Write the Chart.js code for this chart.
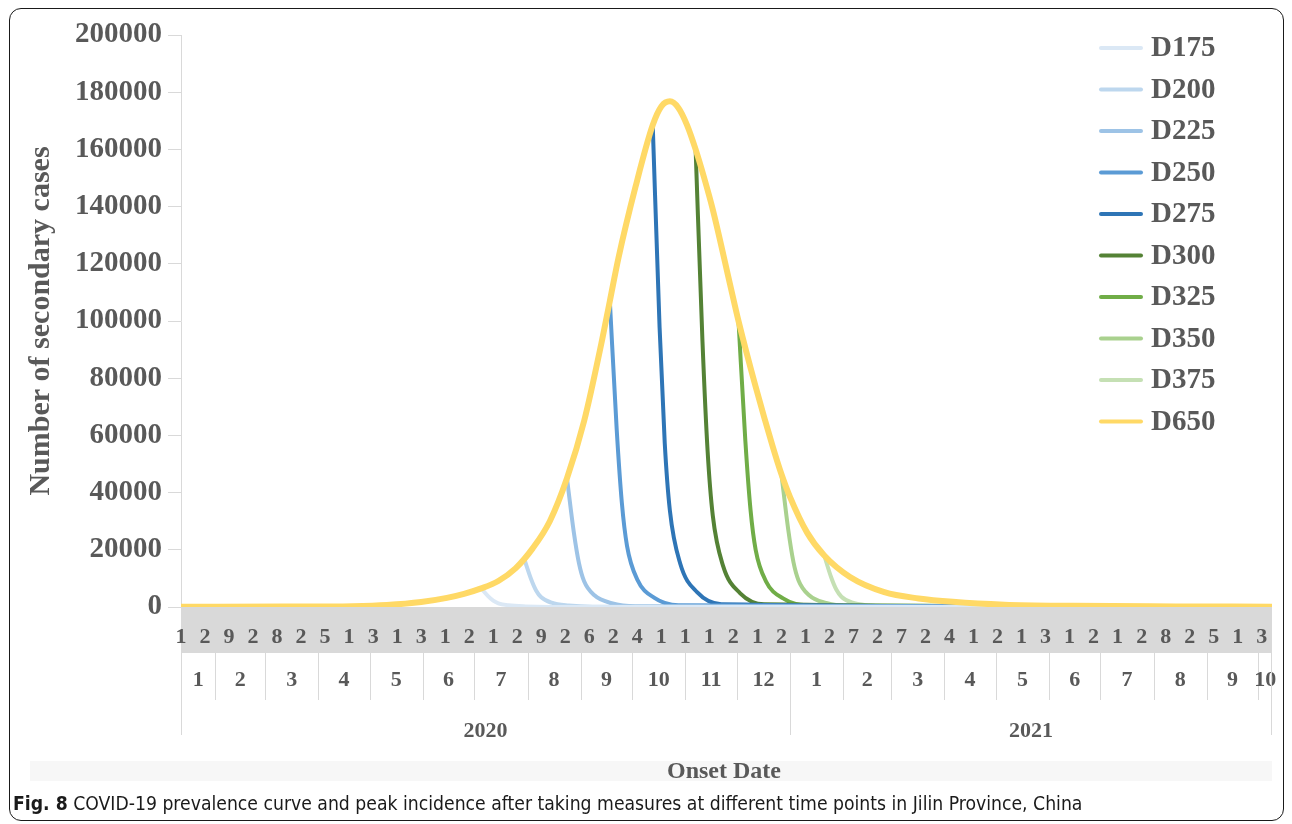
<!DOCTYPE html>
<html>
<head>
<meta charset="utf-8">
<script src="https://cdn.jsdelivr.net/npm/chart.js@4.4.1/dist/chart.umd.min.js"></script>
<style>
    html, body { margin: 0; padding: 0; background: #fff; }
    #wrap { position: relative; width: 1292px; height: 824px; overflow: hidden; }
    #frame {
        position: absolute; left: 9px; top: 8px; width: 1275px; height: 813px;
        border: 1.5px solid #1a1a1a; border-radius: 12px; box-sizing: border-box;
    }
    #chart { position: absolute; left: 0; top: 0; }
    #caption {
        position: absolute; left: 13px; top: 791px; white-space: nowrap;
        font-family: 'Liberation Sans Narrow', 'DejaVu Sans Condensed', 'Noto Sans', sans-serif;
        font-size: 20px; color: #1a1a1a;
        transform: scaleX(0.96); transform-origin: left top;
    }
    #caption b { font-weight: bold; }
</style>
</head>
<body>
<div id="wrap">
    <div id="frame"></div>
    <canvas id="chart" width="1292" height="824"></canvas>
    <div id="caption"><b>Fig. 8</b> COVID-19 prevalence curve and peak incidence after taking measures at different time points in Jilin Province, China</div>
</div>
<script>
// Axe des x : jours depuis le 12/01/2020
const lastDay = 636;
const dayTickEvery = 14;
const dayTicks = ['1','2','9','2','8','2','5','1','3','1','3','1','2','1','2','9','2','6','2','4','1','1','1',
                  '2','1','2','1','2','7','2','7','2','4','1','2','1','3','1','2','1','2','8','2','5','1','3'];
const monthLabels = ['1','2','3','4','5','6','7','8','9','10','11','12','1','2','3','4','5','6','7','8','9','10'];
const monthStarts = [0, 20, 49, 80, 110, 141, 171, 202, 233, 263, 294, 324, 355, 386, 414, 445, 475, 506, 536, 567, 598, 628];
const yearLabels = ['2020', '2021'];
const yearStarts = [0, 355];

// Courbe sans intervention
const d650Days  = [0, 60, 100, 120, 140, 155, 165, 175, 185, 195, 205, 215, 225, 235, 245, 250, 255, 265, 275, 280, 285,
                   290, 295, 300, 305, 310, 320, 325, 335, 345, 350, 355, 365, 375, 390, 410, 430, 450, 480, 520, 580, 636];
const d650Cases = [100, 150, 300, 700, 1750, 3200, 4600, 6500, 9100, 13500, 20500, 30000, 45000, 65000, 92000, 107000, 122000, 147000, 168500, 175000, 176800,
                   174500, 168500, 160000, 150000, 139000, 113000, 100000, 77000, 56000, 46500, 38500, 26000, 18000, 10500, 5200, 3000, 1800, 800, 400, 200, 120];

// Courbes avec mesures prises au jour N
const d175Days = [175, 179, 182, 185, 191, 201, 215, 636];
const d175Cases = [6500, 3800, 2200, 1300, 600, 200, 40, 0];
const d200Days = [200, 204, 207, 210, 216, 226, 240, 636];
const d200Cases = [17000, 9900, 5800, 3400, 1500, 500, 100, 0];
const d225Days = [225, 229, 232, 235, 241, 251, 265, 636];
const d225Cases = [45000, 26100, 15300, 9000, 4100, 1350, 270, 0];
const d250Days = [250, 254, 257, 260, 266, 276, 290, 636];
const d250Cases = [107000, 62000, 36400, 21400, 9600, 3200, 640, 0];
const d275Days = [275, 279, 282, 285, 291, 301, 315, 636];
const d275Cases = [168500, 97700, 57300, 33700, 15200, 5100, 1000, 0];
const d300Days = [300, 304, 307, 310, 316, 326, 340, 636];
const d300Cases = [160000, 92800, 54400, 32000, 14400, 4800, 960, 0];
const d325Days = [325, 329, 332, 335, 341, 351, 365, 636];
const d325Cases = [100000, 58000, 34000, 20000, 9000, 3000, 600, 0];
const d350Days = [350, 354, 357, 360, 366, 376, 390, 636];
const d350Cases = [46500, 27000, 15800, 9300, 4200, 1400, 280, 0];
const d375Days = [375, 379, 382, 385, 391, 401, 415, 636];
const d375Cases = [18000, 10400, 6100, 3600, 1600, 540, 110, 0];

const seriesNames = ['D175', 'D200', 'D225', 'D250', 'D275', 'D300', 'D325', 'D350', 'D375', 'D650'];
const seriesColors = ['#dbe8f5', '#bdd7ee', '#9dc3e6', '#5b9bd5', '#2e75b6', '#548235', '#70ad47', '#a9d18e', '#c5e0b4', '#ffd966'];

const serif = "'Liberation Serif', 'Times New Roman', serif";
const grey = '#595959';

function toPoints(days, cases) {
    return days.map((d, i) => ({ x: d, y: cases[i] }));
}

const seriesData = [
    toPoints(d175Days, d175Cases),
    toPoints(d200Days, d200Cases),
    toPoints(d225Days, d225Cases),
    toPoints(d250Days, d250Cases),
    toPoints(d275Days, d275Cases),
    toPoints(d300Days, d300Cases),
    toPoints(d325Days, d325Cases),
    toPoints(d350Days, d350Cases),
    toPoints(d375Days, d375Cases),
    toPoints(d650Days, d650Cases)
];

// Axe des dates a plusieurs niveaux + legende
const axisDecor = {
    id: 'axisDecor',
    afterDatasetsDraw(chart) {
        const { ctx, chartArea: a, scales: { x } } = chart;
        const bandBottom = a.bottom + 46;
        ctx.save();

        ctx.fillStyle = '#d9d9d9';
        ctx.fillRect(a.left, a.bottom, a.right - a.left, 46);

        ctx.fillStyle = grey;
        ctx.textAlign = 'center';
        ctx.textBaseline = 'middle';
        ctx.font = 'bold 22px ' + serif;
        dayTicks.forEach((t, i) => {
            ctx.fillText(t, x.getPixelForValue(i * dayTickEvery), a.bottom + 30);
        });

        ctx.strokeStyle = '#d9d9d9';
        ctx.lineWidth = 1;
        monthStarts.forEach((d, i) => {
            const x0 = x.getPixelForValue(d);
            const x1 = x.getPixelForValue(i + 1 < monthStarts.length ? monthStarts[i + 1] : lastDay);
            const isYear = yearStarts.includes(d);
            ctx.beginPath();
            ctx.moveTo(Math.round(x0) + 0.5, bandBottom);
            ctx.lineTo(Math.round(x0) + 0.5, isYear ? bandBottom + 82 : bandBottom + 47);
            ctx.stroke();
            ctx.fillText(monthLabels[i], (x0 + x1) / 2, bandBottom + 27);
        });
        ctx.beginPath();
        ctx.moveTo(Math.round(a.right) - 0.5, bandBottom);
        ctx.lineTo(Math.round(a.right) - 0.5, bandBottom + 82);
        ctx.stroke();

        yearLabels.forEach((y, i) => {
            const x0 = x.getPixelForValue(yearStarts[i]);
            const x1 = x.getPixelForValue(i + 1 < yearStarts.length ? yearStarts[i + 1] : lastDay);
            ctx.fillText(y, (x0 + x1) / 2, bandBottom + 78);
        });

        ctx.fillStyle = '#f7f7f7';
        ctx.fillRect(30, 761, a.right - 30, 20);
        ctx.fillStyle = grey;
        ctx.font = 'bold 24px ' + serif;
        ctx.fillText('Onset Date', 724, 772);

        // legende
        ctx.textAlign = 'left';
        ctx.font = 'bold 29px ' + serif;
        chart.data.datasets.forEach((ds, i) => {
            const y = 48 + i * 41.5;
            ctx.strokeStyle = ds.borderColor;
            ctx.lineWidth = 4;
            ctx.lineCap = 'round';
            ctx.beginPath();
            ctx.moveTo(1101, y);
            ctx.lineTo(1141, y);
            ctx.stroke();
            ctx.fillText(ds.label, 1151, y + 1);
        });
        ctx.restore();
    }
};

const chart = new Chart(document.getElementById('chart'), {
    type: 'line',
    data: {
        datasets: seriesNames.map((name, i) => ({
            label: name,
            data: seriesData[i],
            borderColor: seriesColors[i],
            borderWidth: name === 'D650' ? 6 : 4,
            order: name === 'D650' ? 0 : 1,
            pointRadius: 0,
            cubicInterpolationMode: 'monotone',
            borderCapStyle: 'round',
            borderJoinStyle: 'round'
        }))
    },
    options: {
        responsive: false,
        animation: false,
        layout: { padding: { left: 0, top: 35, right: 20, bottom: 217 } },
        plugins: {
            legend: { display: false },
            tooltip: { enabled: false }
        },
        scales: {
            x: {
                type: 'linear',
                min: 0,
                max: lastDay,
                display: false
            },
            y: {
                min: 0,
                max: 200000,
                afterFit(scale) { scale.width = 181; },
                ticks: {
                    stepSize: 20000,
                    color: grey,
                    padding: 6,
                    font: { family: serif, size: 29, weight: 'bold' },
                    callback: (v) => String(v)
                },
                grid: {
                    drawOnChartArea: false,
                    color: '#d9d9d9',
                    tickColor: '#d9d9d9',
                    tickLength: 13
                },
                border: { display: true, color: '#d9d9d9' },
                title: {
                    display: true,
                    text: 'Number of secondary cases',
                    color: grey,
                    padding: { top: 23, bottom: 0 },
                    font: { family: serif, size: 30, weight: 'bold' }
                }
            }
        }
    },
    plugins: [axisDecor]
});
</script>
</body>
</html>
